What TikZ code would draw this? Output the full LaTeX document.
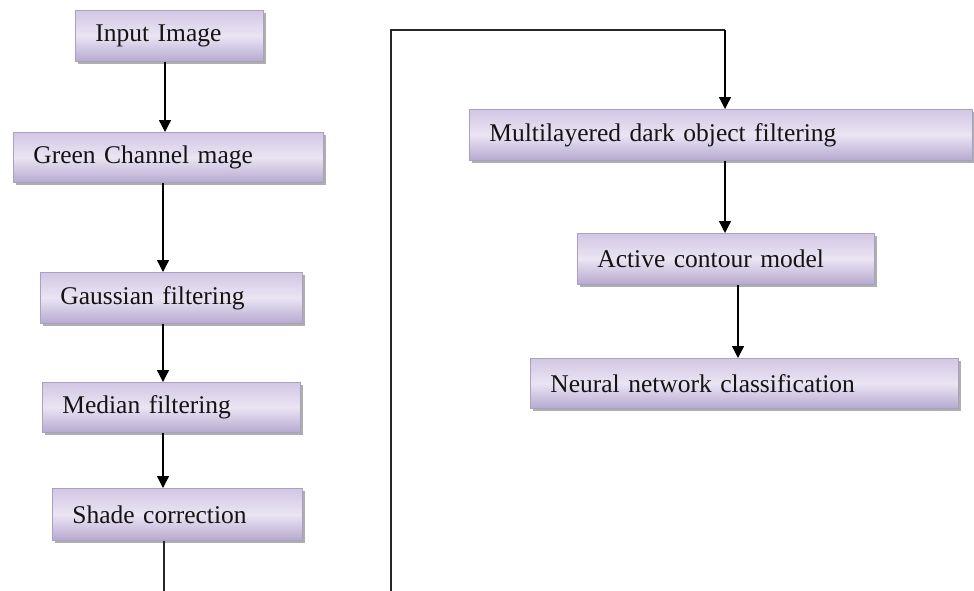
\documentclass[tikz,border=0pt]{standalone}
\usepackage{fontspec}
\setmainfont{Liberation Serif}
\usetikzlibrary{arrows.meta,shadows}
\definecolor{lavtop}{RGB}{210,199,228}
\definecolor{lavmid}{RGB}{234,228,243}
\definecolor{lavbot}{RGB}{182,169,208}
\definecolor{lavedge}{RGB}{170,160,192}
\tikzset{
  procbox/.style={draw=lavedge, line width=0.8pt, top color=lavtop, bottom color=lavbot, middle color=lavmid,
    drop shadow={shadow xshift=2.5pt, shadow yshift=-2.5pt, fill=black!45, opacity=0.7},
    anchor=north west, inner xsep=20pt, inner ysep=0pt, align=left,
    font=\fontsize{25.5}{28}\selectfont, text=black!92},
  arr/.style={line width=1.3pt, draw=black, -{Triangle[width=12pt,length=12pt]}},
  conn/.style={line width=1.3pt, draw=black!85}
}
\begin{document}
\begin{tikzpicture}[x=1pt,y=-1pt]
\useasboundingbox (0,0) rectangle (974,590);
\clip (0,0) rectangle (974,590);
\fill[white] (0,0) rectangle (974,590);
% left column
\node[procbox, text width=148pt, minimum height=51pt] (inp) at (75,10) {Input Image};
\node[procbox, text width=270pt, minimum height=50pt] (grn) at (13,132) {Green Channel mage};
\node[procbox, text width=222pt, minimum height=51pt] (gau) at (40,272) {Gaussian filtering};
\node[procbox, text width=218pt, minimum height=50pt] (med) at (42,382) {Median filtering};
\node[procbox, text width=210pt, minimum height=52pt] (shd) at (52,488) {Shade correction};
% right column
\node[procbox, text width=463pt, minimum height=51pt] (mul) at (469,109) {Multilayered dark object filtering};
\node[procbox, text width=257pt, minimum height=51pt] (act) at (577,233) {Active contour model};
\node[procbox, text width=388pt, minimum height=50pt] (neu) at (530,358) {Neural network classification};
% arrows
\draw[arr] (165,0 |- inp.south) -- (165,0 |- grn.north);
\draw[arr] (163,0 |- grn.south) -- (163,0 |- gau.north);
\draw[arr] (163,0 |- gau.south) -- (163,0 |- med.north);
\draw[arr] (163,0 |- med.south) -- (163,0 |- shd.north);
\draw[arr] (725,0 |- mul.south) -- (725,0 |- act.north);
\draw[arr] (738,0 |- act.south) -- (738,0 |- neu.north);
% loop connector
\coordinate (c1) at (164,600);
\coordinate (c2) at (391,600);
\coordinate (c3) at (391,30);
\coordinate (c4) at (725,30);
\draw[conn] (164,0 |- shd.south) -- (c1) -- (c2) -- (c3) -- (c4);
\draw[arr] (c4) -- (725,0 |- mul.north);
\end{tikzpicture}
\end{document}
